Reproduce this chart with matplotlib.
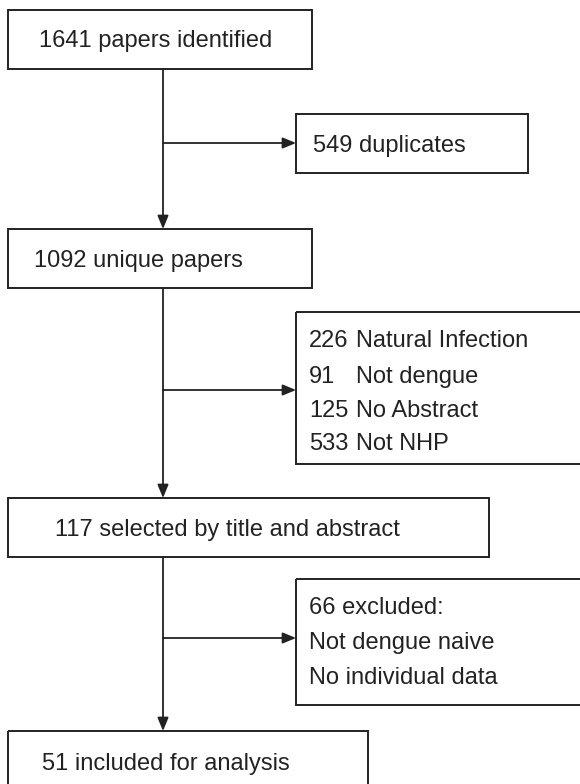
import matplotlib.pyplot as plt
from matplotlib.patches import Rectangle

plt.rcParams['font.family'] = ['Liberation Sans', 'DejaVu Sans']

# flow steps (main column) and the excluded records branching off each step
main_labels = ["1641 papers identified", "1092 unique papers",
               "117 selected by title and abstract", "51 included for analysis"]
excl_counts = [["549"], ["226", "91", "125", "533"], ["66 excluded:"]]
excl_reasons = [["duplicates"],
                ["Natural Infection", "Not dengue", "No Abstract", "Not NHP"],
                ["", "Not dengue naive", "No individual data"]]

# layout in pixels (x0, y0, x1, y1), y downward
main_boxes = [(8, 10, 312, 69), (8, 229, 312, 288), (8, 498, 489, 557), (8, 731, 368, 795)]
main_text_x = [39, 34, 55, 42]
main_text_y = [41, 261, 530, 764]
excl_boxes = [(296, 114, 528, 173), (296, 312, 600, 464), (296, 579, 600, 705)]
excl_line_y = [[146], [341, 377, 411, 444], [608, 643, 678]]
branch_y = [143, 390, 638]
spine_x = 163

col = "#222222"
fig = plt.figure(figsize=(5.8, 7.84), dpi=100)
ax = fig.add_axes([0, 0, 1, 1])
ax.set_xlim(0, 580)
ax.set_ylim(784, 0)
ax.axis("off")

for (x0, y0, x1, y1), lab, tx, ty in zip(main_boxes, main_labels, main_text_x, main_text_y):
    ax.add_patch(Rectangle((x0, y0), x1 - x0, y1 - y0, fill=False, ec=col, lw=1.4))
    ax.text(tx, ty, lab, fontsize=17, color=col, va="center", ha="left")

arrow = dict(arrowstyle="-|>,head_length=0.8,head_width=0.33", color=col, lw=1.3,
             shrinkA=0, shrinkB=0)

for i in range(3):
    # spine between main boxes
    ax.annotate("", xy=(spine_x, main_boxes[i + 1][1]), xytext=(spine_x, main_boxes[i][3]),
                arrowprops=arrow)
    # branch to excluded box
    ex = excl_boxes[i]
    ax.annotate("", xy=(ex[0], branch_y[i]), xytext=(spine_x, branch_y[i]),
                arrowprops=arrow)
    ax.add_patch(Rectangle((ex[0], ex[1]), ex[2] - ex[0], ex[3] - ex[1],
                           fill=False, ec=col, lw=1.4))

# texts inside the excluded boxes
ax.text(313, excl_line_y[0][0], excl_counts[0][0] + " " + excl_reasons[0][0],
        fontsize=17, color=col, va="center")
for y, n, r in zip(excl_line_y[1], excl_counts[1], excl_reasons[1]):
    ax.text(309, y, n, fontsize=17, color=col, va="center")
    ax.text(356, y, r, fontsize=17, color=col, va="center")
ax.text(309, excl_line_y[2][0], excl_counts[2][0], fontsize=17, color=col, va="center")
for y, r in zip(excl_line_y[2][1:], excl_reasons[2][1:]):
    ax.text(309, y, r, fontsize=17, color=col, va="center")

fig.savefig("out.png", dpi=100)
